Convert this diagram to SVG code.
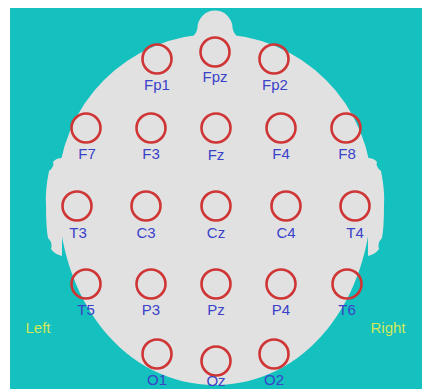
<svg xmlns="http://www.w3.org/2000/svg" width="422" height="389" viewBox="0 0 422 389">
  <style>
    .head { fill: #e1e1e2; }
    .el { fill: none; stroke: #cf3535; stroke-width: 2.6; }
    .lbl { font-family: "Liberation Sans", Arial, sans-serif; font-size: 15px; fill: #3a42c8; text-anchor: middle; }
    .side { font-family: "Liberation Sans", Arial, sans-serif; font-size: 15px; fill: #d2e85a; text-anchor: middle; }
  </style>

  <!-- backdrop -->
  <rect x="0" y="0" width="422" height="389" fill="#ffffff"/>
  <rect x="10" y="8" width="412" height="381" fill="#14c1be"/>

  <!-- scalp outline: round crown, slightly elongated back of head -->
  <g id="head">
    <path class="head" d="M58,191 A157,157 0 0 1 372,191 C372,301.6 304.5,385 215,385 C125.5,385 58,301.6 58,191 Z"/>
    <!-- nose -->
    <path class="head" d="M186,40 Q196,37 197.5,28 A17.5,17.5 0 0 1 232.5,28 Q234,37 244,40 Z"/>
    <!-- left ear -->
    <path class="head" d="M62,158 Q56,158 53,162 Q55,166 49,171 Q45,190 46,206 Q46,228 48,238 Q53,243 51,249 Q54,254 62,256 Z"/>
    <!-- right ear -->
    <path class="head" d="M368,158 Q374,158 377,162 Q375,166 381,171 Q385,190 384,206 Q384,228 382,238 Q377,243 379,249 Q376,254 368,256 Z"/>
  </g>

  <!-- electrodes (10-20 system) -->
  <g id="Fp1"><circle class="el" cx="157" cy="59" r="14.5"/><text class="lbl" x="157" y="90">Fp1</text></g>
  <g id="Fpz"><circle class="el" cx="215" cy="52" r="14.5"/><text class="lbl" x="215" y="82">Fpz</text></g>
  <g id="Fp2"><circle class="el" cx="274" cy="59" r="14.5"/><text class="lbl" x="275" y="90">Fp2</text></g>

  <g id="F7"><circle class="el" cx="86" cy="128" r="14.5"/><text class="lbl" x="87" y="159">F7</text></g>
  <g id="F3"><circle class="el" cx="151" cy="128" r="14.5"/><text class="lbl" x="151" y="159">F3</text></g>
  <g id="Fz"><circle class="el" cx="216" cy="128" r="14.5"/><text class="lbl" x="216" y="160">Fz</text></g>
  <g id="F4"><circle class="el" cx="281" cy="128" r="14.5"/><text class="lbl" x="281" y="159">F4</text></g>
  <g id="F8"><circle class="el" cx="346" cy="128" r="14.5"/><text class="lbl" x="347" y="159">F8</text></g>

  <g id="T3"><circle class="el" cx="77" cy="206" r="14.5"/><text class="lbl" x="78" y="238">T3</text></g>
  <g id="C3"><circle class="el" cx="146" cy="206" r="14.5"/><text class="lbl" x="146" y="238">C3</text></g>
  <g id="Cz"><circle class="el" cx="216" cy="206" r="14.5"/><text class="lbl" x="216" y="238">Cz</text></g>
  <g id="C4"><circle class="el" cx="286" cy="206" r="14.5"/><text class="lbl" x="286" y="238">C4</text></g>
  <g id="T4"><circle class="el" cx="355" cy="206" r="14.5"/><text class="lbl" x="355" y="238">T4</text></g>

  <g id="T5"><circle class="el" cx="86" cy="284" r="14.5"/><text class="lbl" x="86" y="315">T5</text></g>
  <g id="P3"><circle class="el" cx="151" cy="284" r="14.5"/><text class="lbl" x="151" y="315">P3</text></g>
  <g id="Pz"><circle class="el" cx="216" cy="284" r="14.5"/><text class="lbl" x="216" y="315">Pz</text></g>
  <g id="P4"><circle class="el" cx="281" cy="284" r="14.5"/><text class="lbl" x="281" y="315">P4</text></g>
  <g id="T6"><circle class="el" cx="347" cy="284" r="14.5"/><text class="lbl" x="347" y="315">T6</text></g>

  <g id="O1"><circle class="el" cx="157" cy="354" r="14.5"/><text class="lbl" x="157" y="385">O1</text></g>
  <g id="Oz"><circle class="el" cx="216" cy="361" r="14.5"/><text class="lbl" x="216" y="385.5" font-size="13">Oz</text></g>
  <g id="O2"><circle class="el" cx="274" cy="354" r="14.5"/><text class="lbl" x="274" y="385">O2</text></g>

  <!-- hemisphere captions -->
  <text class="side" x="38" y="333">Left</text>
  <text class="side" x="388" y="333">Right</text>
</svg>
